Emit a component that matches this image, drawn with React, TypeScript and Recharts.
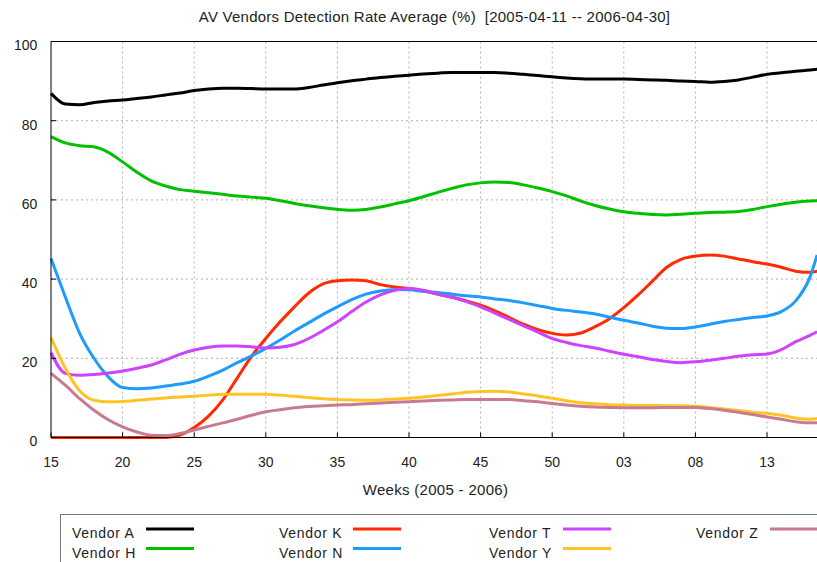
import React from "react";
import {
  LineChart,
  Line,
  XAxis,
  YAxis,
  CartesianGrid,
  ReferenceLine,
} from "recharts";

// week index 0 = week 15 of 2005, 40 = week 03 of 2006
const weeks = [
  0, 1, 2, 3, 4, 5, 6, 7, 8, 9, 10, 11, 12, 13, 14, 15, 16, 17, 18, 19, 20,
  21, 22, 23, 24, 25, 26, 27, 28, 29, 30, 31, 32, 33, 34, 35, 36, 37, 38, 39,
  40, 41, 42, 43, 44, 45, 46, 47, 48, 49, 50, 51, 52, 53, 53.5,
];

const tickWeeks = [0, 5, 10, 15, 20, 25, 30, 35, 40, 45, 50];
const tickLabels = ["15", "20", "25", "30", "35", "40", "45", "50", "03", "08", "13"];
const yTicks = [0, 20, 40, 60, 80, 100];

const vendorA = [
  86.9, 84.2, 84.0, 84.6, 85.0, 85.2, 85.6, 86.0, 86.5, 87.0, 87.6, 88.0, 88.2,
  88.2, 88.1, 88.0, 88.0, 88.0, 88.4, 89.0, 89.6, 90.1, 90.5, 90.9, 91.2, 91.5,
  91.8, 92.0, 92.2, 92.2, 92.2, 92.2, 92.0, 91.7, 91.4, 91.1, 90.8, 90.6, 90.5,
  90.5, 90.5, 90.4, 90.3, 90.2, 90.0, 89.9, 89.7, 89.9, 90.3, 91.0, 91.7, 92.1,
  92.5, 92.8, 93.0,
];
const vendorH = [
  76.0, 74.4, 73.7, 73.4, 72.0, 69.6, 67.0, 64.8, 63.5, 62.6, 62.2, 61.8, 61.4,
  61.0, 60.7, 60.4, 59.8, 59.1, 58.5, 58.0, 57.6, 57.4, 57.6, 58.2, 59.0, 59.8,
  60.8, 61.9, 62.9, 63.8, 64.3, 64.5, 64.4, 63.8, 63.0, 62.1, 61.0, 59.7, 58.6,
  57.7, 57.0, 56.6, 56.3, 56.2, 56.4, 56.6, 56.8, 56.9, 57.1, 57.6, 58.3, 58.9,
  59.4, 59.7, 59.8,
];
const vendorK = [
  0, 0, 0, 0, 0, 0, 0, 0, 0, 0.6, 2.5, 5.4, 9.5, 15.0, 20.5, 25.0, 29.2, 33.0,
  36.5, 38.8, 39.6, 39.8, 39.6, 38.6, 38.0, 37.6, 37.0, 36.2, 35.4, 34.5, 33.4,
  32.0, 30.3, 28.6, 27.2, 26.3, 25.9, 26.4, 28.0, 30.0, 32.8, 36.0, 39.5, 43.0,
  45.0, 45.8, 46.1, 45.8, 45.1, 44.4, 43.8, 43.0, 42.0, 41.7, 42.0,
];
const vendorN = [
  45.2, 35.5, 26.3, 20.0, 15.3, 12.6, 12.3, 12.5, 13.0, 13.5, 14.2, 15.5, 17.0,
  18.9, 20.6, 22.5, 24.6, 26.9, 29.0, 31.1, 33.0, 34.8, 36.2, 37.0, 37.4, 37.3,
  36.9, 36.6, 36.2, 35.8, 35.5, 35.0, 34.6, 34.0, 33.3, 32.6, 32.1, 31.7, 31.2,
  30.4, 29.6, 28.9, 28.1, 27.6, 27.5, 27.9, 28.6, 29.3, 29.8, 30.3, 30.7, 31.8,
  34.5, 40.5, 46.1,
];
const vendorT = [
  21.4, 16.2, 15.7, 15.9, 16.3, 16.8, 17.5, 18.3, 19.6, 21.0, 22.1, 22.8, 23.1,
  23.1, 22.9, 22.6, 22.8, 23.5, 25.0, 27.0, 29.2, 31.8, 34.2, 36.0, 37.2, 37.6,
  37.2, 36.2, 35.4, 34.3, 33.0, 31.4, 29.8, 28.2, 26.6, 25.0, 24.0, 23.2, 22.6,
  21.8, 21.0, 20.4, 19.7, 19.2, 18.9, 19.1, 19.5, 20.0, 20.5, 20.9, 21.1, 22.2,
  24.2, 25.8, 26.7,
];
const vendorY = [
  25.2, 17.5, 11.8, 9.4, 9.0, 9.1, 9.4, 9.7, 10.0, 10.2, 10.4, 10.7, 10.9, 10.9,
  10.9, 10.9, 10.7, 10.4, 10.1, 9.8, 9.6, 9.5, 9.4, 9.5, 9.7, 9.9, 10.2, 10.6,
  11.0, 11.4, 11.6, 11.7, 11.5, 11.0, 10.5, 9.9, 9.3, 8.8, 8.5, 8.3, 8.2, 8.1,
  8.1, 8.0, 8.0, 7.9, 7.6, 7.2, 6.8, 6.4, 6.1, 5.6, 4.9, 4.6, 4.8,
];
const vendorZ = [
  16.2, 13.2, 9.8, 6.9, 4.5, 2.7, 1.4, 0.6, 0.5, 1.0, 1.9, 2.8, 3.7, 4.6, 5.6,
  6.5, 7.0, 7.5, 7.8, 8.0, 8.2, 8.3, 8.5, 8.7, 8.9, 9.0, 9.2, 9.4, 9.5, 9.6, 9.6,
  9.6, 9.6, 9.3, 9.0, 8.6, 8.2, 7.9, 7.7, 7.6, 7.5, 7.5, 7.5, 7.6, 7.6, 7.6, 7.3,
  6.9, 6.4, 5.8, 5.2, 4.6, 4.0, 3.7, 3.7,
];

const SERIES = [
  { key: "A", name: "Vendor A", values: vendorA, color: "#000000" },
  { key: "H", name: "Vendor H", values: vendorH, color: "#00c000" },
  { key: "K", name: "Vendor K", values: vendorK, color: "#ff2a00" },
  { key: "N", name: "Vendor N", values: vendorN, color: "#1e9bff" },
  { key: "T", name: "Vendor T", values: vendorT, color: "#cc44ff" },
  { key: "Y", name: "Vendor Y", values: vendorY, color: "#ffc424" },
  { key: "Z", name: "Vendor Z", values: vendorZ, color: "#c87a90" },
];

const data = weeks.map((w, i) => {
  const row: Record<string, number> = { week: w };
  SERIES.forEach((s) => (row[s.key] = s.values[i]));
  return row;
});

const FONT = "'Liberation Sans', Arial, sans-serif";
const TEXT = "#222";

// legend: two rows, filled column by column
const LEG_COLS = [72, 279, 489, 696];
const LEG_ROWS = [538, 557.5];

export default function App() {
  return (
    <div
      style={{
        position: "absolute",
        left: 0,
        top: 0,
        width: 817,
        height: 562,
        overflow: "hidden",
        background: "#fff",
        fontFamily: FONT,
      }}
    >
      <LineChart
        width={830}
        height={562}
        data={data}
        margin={{ top: 41.5, right: 5.7, bottom: 0, left: 0 }}
      >
        <CartesianGrid
          stroke="#b0b0b0"
          strokeDasharray="2 3"
          horizontalValues={[20, 40, 60, 80]}
          verticalValues={tickWeeks.slice(1)}
        />
        <XAxis
          dataKey="week"
          type="number"
          domain={[0, 54]}
          ticks={tickWeeks}
          tickFormatter={(v) => tickLabels[tickWeeks.indexOf(v)] ?? ""}
          height={124.5}
          axisLine={{ stroke: "#000" }}
          tickLine={{ stroke: "#000" }}
          tickSize={-5}
          tickMargin={24.2}
          tick={{ fill: TEXT, fontSize: 14, fontFamily: FONT }}
          interval={0}
        />
        <YAxis
          type="number"
          domain={[0, 100]}
          ticks={yTicks}
          width={51}
          axisLine={{ stroke: "#000" }}
          tickLine={{ stroke: "#000" }}
          tickSize={-5}
          tickMargin={18.7}
          tick={{ fill: TEXT, fontSize: 14, fontFamily: FONT, dy: 4 }}
          interval={0}
        />
        <ReferenceLine y={100} stroke="#000" />
        {SERIES.map((s) => (
          <Line
            key={s.key}
            dataKey={s.key}
            name={s.name}
            type="monotone"
            stroke={s.color}
            strokeWidth={3}
            dot={false}
            isAnimationActive={false}
          />
        ))}
      </LineChart>

      <svg
        width={817}
        height={562}
        style={{ position: "absolute", left: 0, top: 0, pointerEvents: "none" }}
      >
        <text
          x={434.5}
          y={21.7}
          textAnchor="middle"
          fontSize={15}
          letterSpacing={0.25}
          fill={TEXT}
          fontFamily={FONT}
          style={{ whiteSpace: "pre" }}
        >
          {"AV Vendors Detection Rate Average (%)  [2005-04-11 -- 2006-04-30]"}
        </text>
        <text
          x={435.5}
          y={495}
          textAnchor="middle"
          fontSize={15}
          letterSpacing={0.3}
          fill={TEXT}
          fontFamily={FONT}
        >
          Weeks (2005 - 2006)
        </text>

        <rect x={60.5} y={514.5} width={800} height={100} fill="none" stroke="#777" />
        {SERIES.map((s, i) => {
          const col = Math.floor(i / 2);
          const row = i % 2;
          const tx = LEG_COLS[col];
          const ty = LEG_ROWS[row];
          return (
            <g key={s.key}>
              <text
                x={tx}
                y={ty}
                fontSize={14}
                letterSpacing={0.7}
                fill={TEXT}
                fontFamily={FONT}
              >
                {s.name}
              </text>
              <line
                x1={tx + 74}
                x2={tx + 122}
                y1={ty - 9}
                y2={ty - 9}
                stroke={s.color}
                strokeWidth={3}
              />
            </g>
          );
        })}
      </svg>
    </div>
  );
}
